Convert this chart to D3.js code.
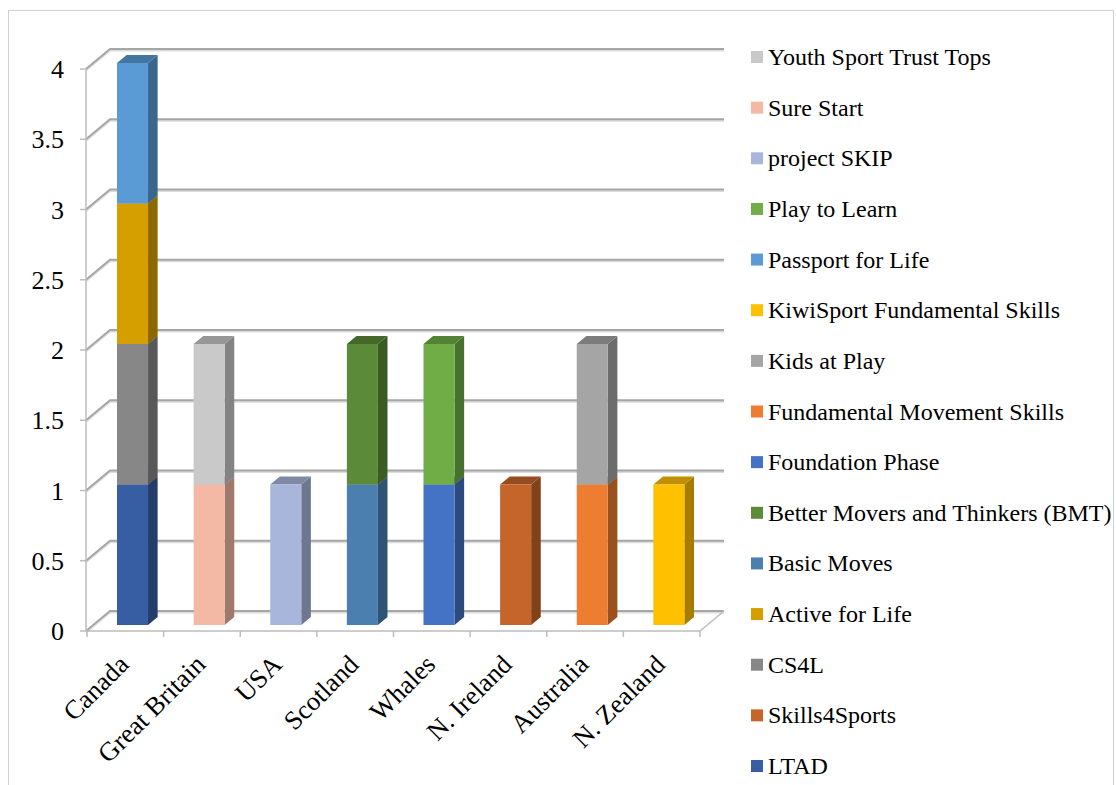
<!DOCTYPE html>
<html>
<head>
<meta charset="utf-8">
<script src="https://cdn.jsdelivr.net/npm/d3@7"></script>
<style>
  html, body { margin: 0; padding: 0; background: #fff; }
  svg { display: block; }
</style>
</head>
<body>
<script>
// pays (catégories)
const countries = ["Canada", "Great Britain", "USA", "Scotland", "Whales",
  "N. Ireland", "Australia", "N. Zealand"];

// programmes, dans l'ordre d'empilement (bas -> haut)
const programs = ["LTAD", "Skills4Sports", "CS4L", "Active for Life", "Basic Moves",
  "Better Movers and Thinkers (BMT)", "Foundation Phase", "Fundamental Movement Skills",
  "Kids at Play", "KiwiSport Fundamental Skills", "Passport for Life", "Play to Learn",
  "project SKIP", "Sure Start", "Youth Sport Trust Tops"];

const programColors = ["#375ea3", "#c5652a", "#878787", "#d59f00", "#4a7fb0",
  "#5b8b38", "#4472c4", "#ed7d31", "#a5a5a5", "#ffc000", "#5b9bd5", "#70ad47",
  "#a9b6dc", "#f4b9a4", "#c9c9c9"];

// une ligne par programme, une colonne par pays
const programCounts = [
  [1, 0, 0, 0, 0, 0, 0, 0], // LTAD
  [0, 0, 0, 0, 0, 1, 0, 0], // Skills4Sports
  [1, 0, 0, 0, 0, 0, 0, 0], // CS4L
  [1, 0, 0, 0, 0, 0, 0, 0], // Active for Life
  [0, 0, 0, 1, 0, 0, 0, 0], // Basic Moves
  [0, 0, 0, 1, 0, 0, 0, 0], // BMT
  [0, 0, 0, 0, 1, 0, 0, 0], // Foundation Phase
  [0, 0, 0, 0, 0, 0, 1, 0], // Fundamental Movement Skills
  [0, 0, 0, 0, 0, 0, 1, 0], // Kids at Play
  [0, 0, 0, 0, 0, 0, 0, 1], // KiwiSport
  [1, 0, 0, 0, 0, 0, 0, 0], // Passport for Life
  [0, 0, 0, 0, 1, 0, 0, 0], // Play to Learn
  [0, 0, 1, 0, 0, 0, 0, 0], // project SKIP
  [0, 1, 0, 0, 0, 0, 0, 0], // Sure Start
  [0, 1, 0, 0, 0, 0, 0, 0]  // Youth Sport Trust Tops
];

const yTicks = [0, 0.5, 1, 1.5, 2, 2.5, 3, 3.5, 4];

const width = 1116;
const height = 785;
const font = "'Liberation Serif', 'Times New Roman', serif";

// profondeur de la vue 3D
const DX = 24, DY = -20;

const svg = d3.create("svg")
  .attr("width", width)
  .attr("height", height)
  .attr("viewBox", `0 0 ${width} ${height}`);

// cadre extérieur
svg.append("rect")
  .attr("x", 8.5).attr("y", 10.5)
  .attr("width", 1105).attr("height", 800)
  .attr("fill", "none").attr("stroke", "#d0d0d0");

const x = d3.scaleBand().domain(countries).range([87, 700]);
const y = d3.scaleLinear().domain([0, 4]).range([631, 69]);

// mur gauche + mur du fond
const grid = svg.append("g");
yTicks.forEach(t => {
  const yy = y(t);
  const d = `M${x.range()[0] - 1},${yy}L${x.range()[0] - 1 + DX},${yy + DY}L${x.range()[1] + DX},${yy + DY}`;
  grid.append("path")
    .attr("d", d)
    .attr("fill", "none").attr("stroke", "#dcdcdc").attr("stroke-width", 2)
    .attr("transform", "translate(0,1.5)");
  grid.append("path")
    .attr("d", d)
    .attr("fill", "none").attr("stroke", "#a6a6a6").attr("stroke-width", 2);
});

// sol : bord avant et bord droit
grid.append("path")
  .attr("d", `M${x.range()[0] - 1},${y(0)}L${x.range()[1]},${y(0)}L${x.range()[1] + DX},${y(0) + DY}`)
  .attr("fill", "none").attr("stroke", "#bdbdbd").attr("stroke-width", 1.5);

// axe vertical avant
grid.append("line")
  .attr("x1", x.range()[0] - 1).attr("x2", x.range()[0] - 1)
  .attr("y1", y(4)).attr("y2", y(0))
  .attr("stroke", "#bdbdbd").attr("stroke-width", 1.5);

// graduations Y
svg.append("g").selectAll("line")
  .data(yTicks)
  .join("line")
  .attr("x1", x.range()[0] - 7).attr("x2", x.range()[0] - 1)
  .attr("y1", d => y(d)).attr("y2", d => y(d))
  .attr("stroke", "#bdbdbd").attr("stroke-width", 1.5);

svg.append("g").selectAll("text")
  .data(yTicks)
  .join("text")
  .attr("x", 64)
  .attr("y", d => y(d) + 9)
  .attr("text-anchor", "end")
  .attr("font-family", font)
  .attr("font-size", 26)
  .attr("fill", "#000")
  .text(d => String(d));

// graduations X
const xTickPos = countries.map(c => x(c)).concat([x.range()[1]]);
svg.append("g").selectAll("line")
  .data(xTickPos)
  .join("line")
  .attr("x1", d => d).attr("x2", d => d)
  .attr("y1", y(0)).attr("y2", y(0) + 6)
  .attr("stroke", "#bdbdbd").attr("stroke-width", 1.5);

svg.append("g").selectAll("text")
  .data(countries)
  .join("text")
  .attr("transform", d => `translate(${x(d) + x.bandwidth() / 2 + 5},${y(0) + 35}) rotate(-45)`)
  .attr("text-anchor", "end")
  .attr("font-family", font)
  .attr("font-size", 26.5)
  .attr("fill", "#000")
  .text(d => d);

// barres empilées
const rows = countries.map((c, j) => {
  const row = {country: c};
  programs.forEach((p, i) => { row[p] = programCounts[i][j]; });
  return row;
});
const series = d3.stack().keys(programs)(rows);

const barW = x.bandwidth() * 0.405;
const d0 = 0.3, d1 = 0.7;
const bx = DX * d0, by = DY * d0;
const sideX = DX * (d1 - d0), sideY = DY * (d1 - d0);

const bars = svg.append("g");
series.forEach((s, i) => {
  const col = programColors[i];
  s.forEach((seg, j) => {
    if (seg[1] - seg[0] <= 0) return;
    const cx = x(countries[j]) + x.bandwidth() / 2;
    const xl = cx - barW / 2 + bx;
    const xr = xl + barW;
    const yt = y(seg[1]) + by;
    const yb = y(seg[0]) + by;
    const g = bars.append("g").attr("class", "seg");
    g.append("path")
      .attr("d", `M${xr},${yt}L${xr + sideX},${yt + sideY}L${xr + sideX},${yb + sideY}L${xr},${yb}Z`)
      .attr("fill", d3.color(col).darker(1.2));
    g.append("path")
      .attr("d", `M${xl},${yt}L${xl + sideX},${yt + sideY}L${xr + sideX},${yt + sideY}L${xr},${yt}Z`)
      .attr("fill", d3.color(col).darker(0.8));
    g.append("rect")
      .attr("x", xl).attr("y", yt)
      .attr("width", barW).attr("height", yb - yt)
      .attr("fill", col);
  });
});

// légende (ordre inverse)
const legendItems = programs.map((p, i) => ({name: p, color: programColors[i]})).reverse();
const legend = svg.append("g");
const legendY = d3.scalePoint().domain(legendItems.map(d => d.name)).range([57, 766]);
legend.selectAll("rect")
  .data(legendItems)
  .join("rect")
  .attr("x", 751).attr("y", d => legendY(d.name) - 6)
  .attr("width", 12).attr("height", 12)
  .attr("fill", d => d.color);
legend.selectAll("text")
  .data(legendItems)
  .join("text")
  .attr("x", 768).attr("y", d => legendY(d.name) + 8)
  .attr("font-family", font)
  .attr("font-size", 24)
  .attr("fill", "#000")
  .text(d => d.name);

document.body.append(svg.node());
</script>
</body>
</html>
